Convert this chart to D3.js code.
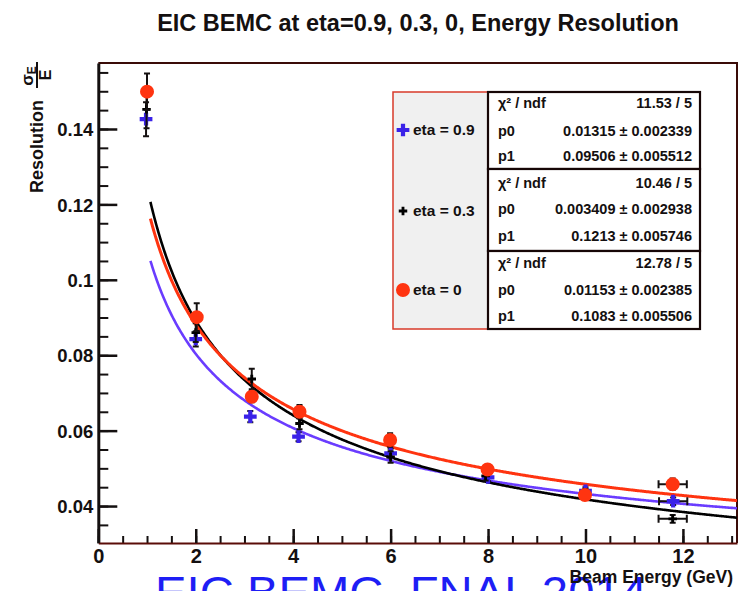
<!DOCTYPE html>
<html>
<head>
<meta charset="utf-8">
<script src="https://cdn.jsdelivr.net/npm/d3@7"></script>
<style>
  html, body { margin: 0; padding: 0; background: #fff; overflow: hidden; }
  text { font-family: "Liberation Sans", Arial, Helvetica, sans-serif; }
</style>
</head>
<body>
<svg id="chart" width="739" height="591"></svg>
<script>
// ---- measured resolution points (sigma_E / E vs beam energy) ----
const energyEta09 = [0.98, 2.00, 3.12, 4.11, 6.00, 8.00, 10.00, 11.80];
const resEta09    = [0.1426, 0.0843, 0.0637, 0.0584, 0.0540, 0.0476, 0.0440, 0.0413];
const yErrEta09   = [0.0045, 0.0020, 0.0015, 0.0012, 0.0012, 0.0010, 0.0010, 0.0010];
const xErrEta09   = [0, 0, 0, 0, 0, 0, 0, 0.29];

const energyEta03 = [0.99, 2.00, 3.15, 4.13, 6.00, 7.95, 10.00, 11.79];
const resEta03    = [0.1452, 0.0860, 0.0737, 0.0619, 0.0530, 0.0480, 0.0433, 0.0366];
const yErrEta03   = [0.0050, 0.0025, 0.0027, 0.0015, 0.0015, 0.0012, 0.0012, 0.0010];
const xErrEta03   = [0, 0, 0, 0, 0, 0, 0, 0.29];

const energyEta0  = [1.00, 2.02, 3.15, 4.13, 5.99, 7.99, 9.99, 11.79];
const resEta0     = [0.1499, 0.0901, 0.0690, 0.0650, 0.0575, 0.0497, 0.0429, 0.0458];
const yErrEta0    = [0.0048, 0.0037, 0.0015, 0.0018, 0.0018, 0.0012, 0.0012, 0.0015];
const xErrEta0    = [0, 0, 0, 0, 0, 0, 0, 0.29];

// ---- fit results: R(E) = p0 + p1 / sqrt(E) ----
const fitEta09 = [0.01315, 0.09506];
const fitEta03 = [0.003409, 0.1213];
const fitEta0  = [0.01153, 0.1083];
const fitRange = [1.07, 13.11];

// ---- stats box text ----
const statsEta09 = [["\u03C7\u00B2 / ndf", "11.53 / 5"], ["p0", "0.01315 \u00B1 0.002339"], ["p1", "0.09506 \u00B1 0.005512"]];
const statsEta03 = [["\u03C7\u00B2 / ndf", "10.46 / 5"], ["p0", "0.003409 \u00B1 0.002938"], ["p1", "0.1213 \u00B1 0.005746"]];
const statsEta0  = [["\u03C7\u00B2 / ndf", "12.78 / 5"], ["p0", "0.01153 \u00B1 0.002385"], ["p1", "0.1083 \u00B1 0.005506"]];

const legendLabels = ["eta = 0.9", "eta = 0.3", "eta = 0"];

// ---- axis ticks ----
const xTickValues = [0, 2, 4, 6, 8, 10, 12];
const yTickValues = [0.04, 0.06, 0.08, 0.10, 0.12, 0.14];
const yTickLabels = ["0.04", "0.06", "0.08", "0.1", "0.12", "0.14"];
const xMinorValues = d3.range(0, 13.01, 0.5);
const yMinorValues = d3.range(0.035, 0.1551, 0.005);

const svg = d3.select("#chart");
const INK = "#141010";
const RED = "#ff3410";
const BLUE_LINE = "#6a3cff";
const BLUE_MARK = "#3a22e8";

const frame = { left: 98.3, right: 737, top: 63, bottom: 543 };
const x = d3.scaleLinear().domain([0, 13.11]).range([frame.left, frame.right]);
const y = d3.scaleLinear().domain([0.0302, 0.1575]).range([frame.bottom, frame.top]);

// slide caption running off the bottom edge (sits underneath the plot)
svg.append("text").attr("x", 155).attr("y", 608).text("EIC BEMC, FNAL 2014")
  .attr("textLength", 492).attr("lengthAdjust", "spacingAndGlyphs")
  .attr("fill", "#1e1ef5").style("font-size", "44px");

// frame (top and right edges)
svg.append("path")
  .attr("d", `M${frame.left},${frame.top}H${frame.right}V${frame.bottom}`)
  .attr("fill", "none").attr("stroke", "#3a0c08").attr("stroke-width", 2);

// ---- axes ----
const yMinor = svg.append("g").attr("transform", `translate(${frame.left},0)`)
  .call(d3.axisLeft(y).tickValues(yMinorValues).tickSize(-10).tickFormat(""));
yMinor.select(".domain").remove();
yMinor.selectAll("line").attr("stroke", INK).attr("stroke-width", 2);

const yAxis = svg.append("g").attr("transform", `translate(${frame.left},0)`)
  .call(d3.axisLeft(y).tickValues(yTickValues).tickSize(-19).tickPadding(5)
    .tickFormat((d, i) => yTickLabels[i]).tickSizeOuter(0));
yAxis.select(".domain").attr("stroke", INK).attr("stroke-width", 3);
yAxis.selectAll("line").attr("stroke", INK).attr("stroke-width", 2.5);
yAxis.selectAll("text").attr("fill", INK).style("font-size", "18.5px").style("font-weight", "bold")
  .attr("x", -5).attr("dy", "0.36em");

const xMinor = svg.append("g").attr("transform", `translate(0,${frame.bottom})`)
  .call(d3.axisBottom(x).tickValues(xMinorValues).tickSize(-7).tickFormat(""));
xMinor.select(".domain").remove();
xMinor.selectAll("line").attr("stroke", INK).attr("stroke-width", 2);

const xAxis = svg.append("g").attr("transform", `translate(0,${frame.bottom})`)
  .call(d3.axisBottom(x).tickValues(xTickValues).tickSize(-14).tickPadding(7).tickSizeOuter(0));
xAxis.select(".domain").attr("stroke", "#5a0d08").attr("stroke-width", 2);
xAxis.selectAll("line").attr("stroke", INK).attr("stroke-width", 2.5);
xAxis.selectAll("text").attr("fill", INK).style("font-size", "20px").style("font-weight", "bold")
  .attr("y", 6).attr("dy", "0.71em");

// ---- fit curves ----
function fitCurve(params) {
  const [p0, p1] = params;
  return d3.range(fitRange[0], fitRange[1] + 1e-9, 0.02).map(e => [e, p0 + p1 / Math.sqrt(e)]);
}
const curve = d3.line().x(d => x(d[0])).y(d => y(d[1])).curve(d3.curveLinear);
svg.append("clipPath").attr("id", "plotClip")
  .append("rect").attr("x", frame.left).attr("y", frame.top)
  .attr("width", frame.right - frame.left).attr("height", frame.bottom - frame.top);
const curves = svg.append("g").attr("clip-path", "url(#plotClip)");
curves.append("path").attr("d", curve(fitCurve(fitEta09))).attr("fill", "none")
  .attr("stroke", BLUE_LINE).attr("stroke-width", 2.6);
curves.append("path").attr("d", curve(fitCurve(fitEta03))).attr("fill", "none")
  .attr("stroke", "#000").attr("stroke-width", 2.6);
curves.append("path").attr("d", curve(fitCurve(fitEta0))).attr("fill", "none")
  .attr("stroke", RED).attr("stroke-width", 3);

// ---- points with error bars ----
function drawSeries(es, rs, yerr, xerr, symbol, color) {
  const pts = es.map((e, i) => ({ e, r: rs[i], ey: yerr[i], ex: xerr[i] }));
  const g = svg.append("g");
  const bars = g.selectAll("g.bar").data(pts).join("g").attr("class", "bar")
    .attr("stroke", INK).attr("stroke-width", 2).attr("fill", "none");
  bars.append("line")
    .attr("x1", d => x(d.e)).attr("x2", d => x(d.e))
    .attr("y1", d => y(d.r - d.ey)).attr("y2", d => y(d.r + d.ey));
  bars.append("path")
    .attr("d", d => `M${x(d.e) - 3},${y(d.r + d.ey)}H${x(d.e) + 3}M${x(d.e) - 3},${y(d.r - d.ey)}H${x(d.e) + 3}`);
  bars.filter(d => d.ex > 0).append("path")
    .attr("d", d => `M${x(d.e - d.ex)},${y(d.r)}H${x(d.e + d.ex)}` +
      `M${x(d.e - d.ex)},${y(d.r) - 4}V${y(d.r) + 4}M${x(d.e + d.ex)},${y(d.r) - 4}V${y(d.r) + 4}`);
  g.selectAll("path.mark").data(pts).join("path").attr("class", "mark")
    .attr("transform", d => `translate(${x(d.e)},${y(d.r)})`)
    .attr("d", symbol).attr("fill", color);
}
const crossBig = d3.symbol(d3.symbolCross, 90)();
const crossSmall = d3.symbol(d3.symbolCross, 40)();
const circleMark = d3.symbol(d3.symbolCircle, 154)();
drawSeries(energyEta09, resEta09, yErrEta09, xErrEta09, crossBig, BLUE_MARK);
drawSeries(energyEta03, resEta03, yErrEta03, xErrEta03, crossSmall, "#000");
drawSeries(energyEta0, resEta0, yErrEta0, xErrEta0, circleMark, RED);

// ---- legend ----
const legend = svg.append("g");
legend.append("rect").attr("x", 393).attr("y", 92).attr("width", 95).attr("height", 237)
  .attr("fill", "#f0f0f0").attr("stroke", "#d83a2a").attr("stroke-width", 1.5);
const legendRows = [
  { label: legendLabels[0], cy: 130, mark: crossBig, color: BLUE_MARK },
  { label: legendLabels[1], cy: 211, mark: crossSmall, color: "#000" },
  { label: legendLabels[2], cy: 290, mark: circleMark, color: RED }
];
legendRows.forEach(r => {
  legend.append("path").attr("d", r.mark).attr("fill", r.color)
    .attr("transform", `translate(403,${r.cy})`);
  legend.append("text").attr("x", 413).attr("y", r.cy + 5).text(r.label)
    .attr("fill", INK).style("font-size", "15.5px").style("font-weight", "bold");
});

// ---- stats boxes ----
const statBoxes = [
  { rows: statsEta09, top: 92, bottom: 169, base: [108, 136, 161] },
  { rows: statsEta03, top: 169, bottom: 251, base: [188, 214, 241] },
  { rows: statsEta0,  top: 251, bottom: 329, base: [268, 295, 321] }
];
statBoxes.forEach(b => {
  const g = svg.append("g");
  g.append("rect").attr("x", 488).attr("y", b.top).attr("width", 212).attr("height", b.bottom - b.top)
    .attr("fill", "#fff").attr("stroke", "#160606").attr("stroke-width", 2.2);
  b.rows.forEach((row, i) => {
    g.append("text").attr("x", 498).attr("y", b.base[i]).text(row[0])
      .attr("fill", INK).style("font-size", "14.5px").style("font-weight", "bold");
    g.append("text").attr("x", 692).attr("y", b.base[i]).attr("text-anchor", "end").text(row[1])
      .attr("fill", INK).style("font-size", "14.5px").style("font-weight", "bold");
  });
});

// ---- titles ----
svg.append("text").attr("x", 418).attr("y", 31).attr("text-anchor", "middle")
  .text("EIC BEMC at eta=0.9, 0.3, 0, Energy Resolution")
  .attr("fill", INK).style("font-size", "23.5px").style("font-weight", "bold");

svg.append("text").attr("x", 733).attr("y", 583).attr("text-anchor", "end")
  .text("Beam Energy (GeV)")
  .attr("fill", INK).style("font-size", "17.5px").style("font-weight", "bold");

// y title: "Resolution" followed by the sigma_E / E fraction, read bottom to top
const yTitle = svg.append("g").attr("transform", "translate(43,0) rotate(-90)");
yTitle.append("text").attr("x", -100).attr("y", 0).attr("text-anchor", "end").text("Resolution")
  .attr("fill", INK).style("font-size", "18px").style("font-weight", "bold");
yTitle.append("line").attr("x1", -88).attr("x2", -62).attr("y1", -6).attr("y2", -6)
  .attr("stroke", INK).attr("stroke-width", 2);
const num = yTitle.append("text").attr("x", -76).attr("y", -10).attr("text-anchor", "middle")
  .attr("fill", INK).style("font-size", "17px").style("font-weight", "bold");
num.append("tspan").text("\u03C3");
num.append("tspan").attr("dy", 3).style("font-size", "12px").text("E");
yTitle.append("text").attr("x", -75).attr("y", 8).attr("text-anchor", "middle").text("E")
  .attr("fill", INK).style("font-size", "16px").style("font-weight", "bold");
</script>
</body>
</html>
